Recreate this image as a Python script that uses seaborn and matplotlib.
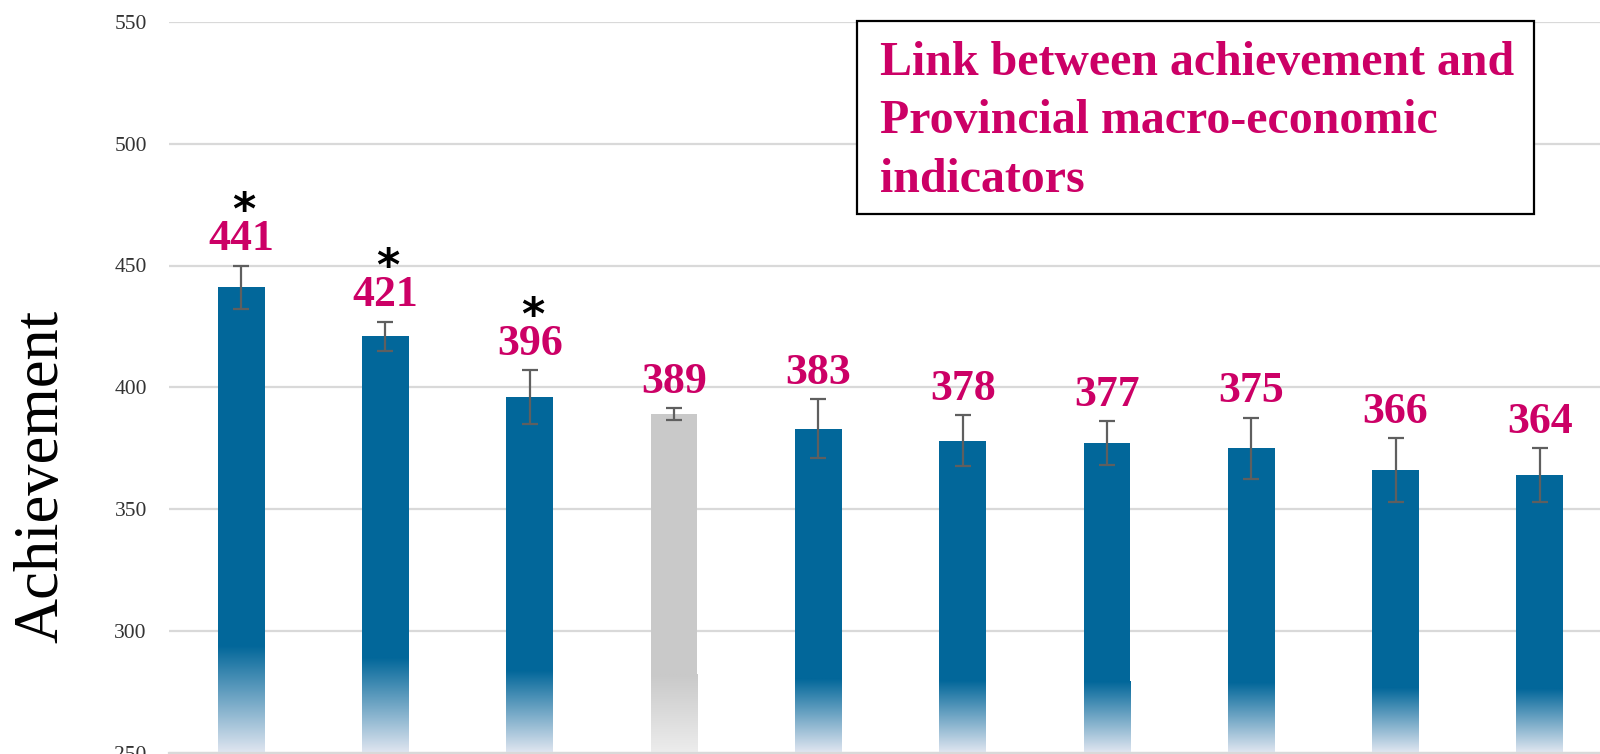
import numpy as np
import pandas as pd
import matplotlib
matplotlib.use("Agg")
import matplotlib.pyplot as plt
from matplotlib.colors import to_rgb
from matplotlib.patches import Rectangle
import seaborn as sns

# データ
groups = ["G1", "G2", "G3", "G4", "G5", "G6", "G7", "G8", "G9", "G10"]
scores = [441, 421, 396, 389, 383, 378, 377, 375, 366, 364]
errors = [9, 6, 11, 2.5, 12, 10.5, 9, 12.5, 13, 11]
significant = [True, True, True, False, False, False, False, False, False, False]
highlight = [False, False, False, True, False, False, False, False, False, False]

color_blue = "#02679a"
color_blue_light = "#dde4ef"
color_gray = "#c9c9c9"
color_gray_light = "#ececec"
color_label = "#cc0066"
color_err = "#5f5f5f"
color_grid = "#d9d9d9"

sns.set_theme(style="white")
plt.rcParams['font.family'] = ['Liberation Serif', 'DejaVu Serif']

df = pd.DataFrame({"group": groups, "score": scores})
palette = [color_gray if h else color_blue for h in highlight]

fig = plt.figure(figsize=(16, 7.54), dpi=100)
ax = fig.add_axes([169/1600, 1.5/754, 1443/1600, 730.5/754])

sns.barplot(data=df, x="group", y="score", hue="group", palette=palette,
            legend=False, width=0.325, saturation=1, linewidth=0,
            edgecolor="none", ax=ax, zorder=2)

# グラデーション (下部のフェード)
for p, h in zip(ax.patches, highlight):
    top = p.get_height()
    fade_top = 250 + 0.228 * (top - 250)
    c_top = np.array(to_rgb(color_gray if h else color_blue))
    c_bot = np.array(to_rgb(color_gray_light if h else color_blue_light))
    t = np.linspace(0, 1, 64)[:, None]
    grad = c_bot * (1 - t) + c_top * t
    img = grad[:, None, :]
    ax.imshow(img, extent=[p.get_x(), p.get_x() + p.get_width(), 250, fade_top],
              origin="lower", aspect="auto", zorder=2.5, interpolation="bilinear")
ax.set_xlim(-0.5, len(groups) - 0.5)
ax.set_ylim(250, 550)

# エラーバー
xs = [p.get_x() + p.get_width() / 2 for p in ax.patches]
ax.errorbar(xs, scores, yerr=errors, fmt="none", ecolor=color_err,
            elinewidth=1.6, capsize=6, capthick=1.6, zorder=3)

# ラベルとアスタリスク
for x, v, e, s in zip(xs, scores, errors, significant):
    ax.annotate(str(v), (x, v + e), xytext=(0, 11), textcoords="offset points",
                ha="center", va="baseline", fontsize=31.5, fontweight="bold",
                color=color_label, zorder=4)
    if s:
        ax.annotate("*", (x, v + e), xytext=(2, 39), textcoords="offset points",
                    ha="center", va="center", fontsize=32, fontweight="bold",
                    color="black", family="DejaVu Sans", zorder=4)

# 軸
ax.set_yticks([250, 300, 350, 400, 450, 500, 550])
ax.yaxis.grid(True, color=color_grid, linewidth=1.6, zorder=0)
ax.set_axisbelow(True)
ax.tick_params(axis="y", length=0, pad=16, labelsize=15.5, labelcolor="#333333")
ax.set_xticks(np.arange(len(groups) - 1) + 0.5)
ax.set_xticklabels([])
ax.tick_params(axis="x", length=5, width=1.2, color=color_grid, direction="out")
for side in ["top", "right", "left"]:
    ax.spines[side].set_visible(False)
ax.spines["bottom"].set_color(color_grid)
ax.spines["bottom"].set_linewidth(1.6)
ax.set_xlabel("")
ax.set_ylabel("")

fig.text(42/1600, 1 - 476/754, "Achievement", rotation=90, ha="center",
         va="center", fontsize=45, color="black")

# タイトルボックス
fig.patches.append(Rectangle((857/1600, 1 - 214/754), (1534 - 857)/1600, (214 - 21)/754,
                             transform=fig.transFigure, fill=True, facecolor="white",
                             edgecolor="black", linewidth=1.6, zorder=5))
fig.text(880/1600, 1 - 41/754,
         "Link between achievement and\nProvincial macro-economic\nindicators",
         ha="left", va="top", fontsize=34.5, fontweight="bold", color=color_label,
         linespacing=1.42, zorder=6)

fig.savefig("out.png", dpi=100)
